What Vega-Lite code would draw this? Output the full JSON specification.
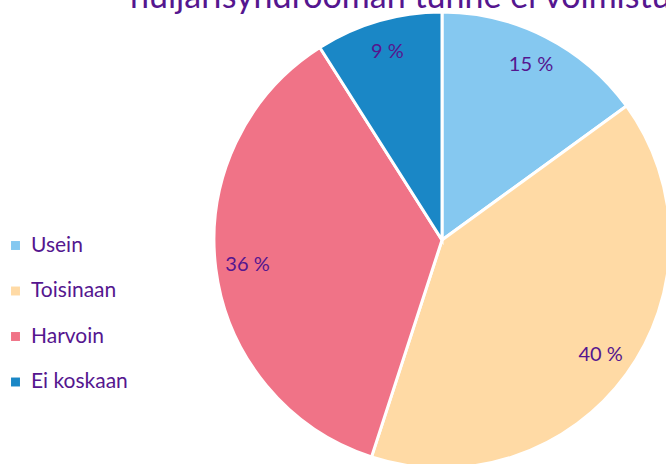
{
  "$schema": "https://vega.github.io/schema/vega-lite/v6.json",
  "autosize": "none",
  "padding": 0,
  "width": 884,
  "height": 480,
  "background": "white",
  "title": {
    "text": "huijarisyndrooman tunne ei voimistu",
    "anchor": "start",
    "orient": "top",
    "baseline": "alphabetic",
    "offset": -42,
    "dx": 130,
    "font": "Lato",
    "fontSize": 34,
    "fontWeight": "normal",
    "color": "#55168F"
  },
  "data": {
    "values": [
      {"category": "Usein", "value": 15, "label": "15 %", "order": 1},
      {"category": "Toisinaan", "value": 40, "label": "40 %", "order": 2},
      {"category": "Harvoin", "value": 36, "label": "36 %", "order": 3},
      {"category": "Ei koskaan", "value": 9, "label": "9 %", "order": 4}
    ]
  },
  "encoding": {
    "theta": {"field": "value", "type": "quantitative", "stack": true},
    "order": {"field": "order", "type": "quantitative"}
  },
  "layer": [
    {
      "mark": {"type": "arc", "outerRadius": 228, "stroke": "white", "strokeWidth": 3},
      "encoding": {
        "color": {
          "field": "category",
          "type": "nominal",
          "scale": {
            "domain": ["Usein", "Toisinaan", "Harvoin", "Ei koskaan"],
            "range": ["#85C8F0", "#FFDAA5", "#F07387", "#1A87C6"]
          },
          "legend": {
            "title": null,
            "orient": "none",
            "legendX": 5,
            "legendY": 235,
            "symbolType": "square",
            "symbolSize": 80,
            "symbolStrokeWidth": 0,
            "labelFont": "Lato",
            "labelFontSize": 21,
            "labelColor": "#55168F",
            "labelOffset": 5,
            "rowPadding": 23.5
          }
        }
      }
    },
    {
      "mark": {"type": "text", "radius": 196, "font": "Lato", "fontSize": 20, "color": "#55168F"},
      "encoding": {"text": {"field": "label", "type": "nominal"}}
    }
  ]
}
